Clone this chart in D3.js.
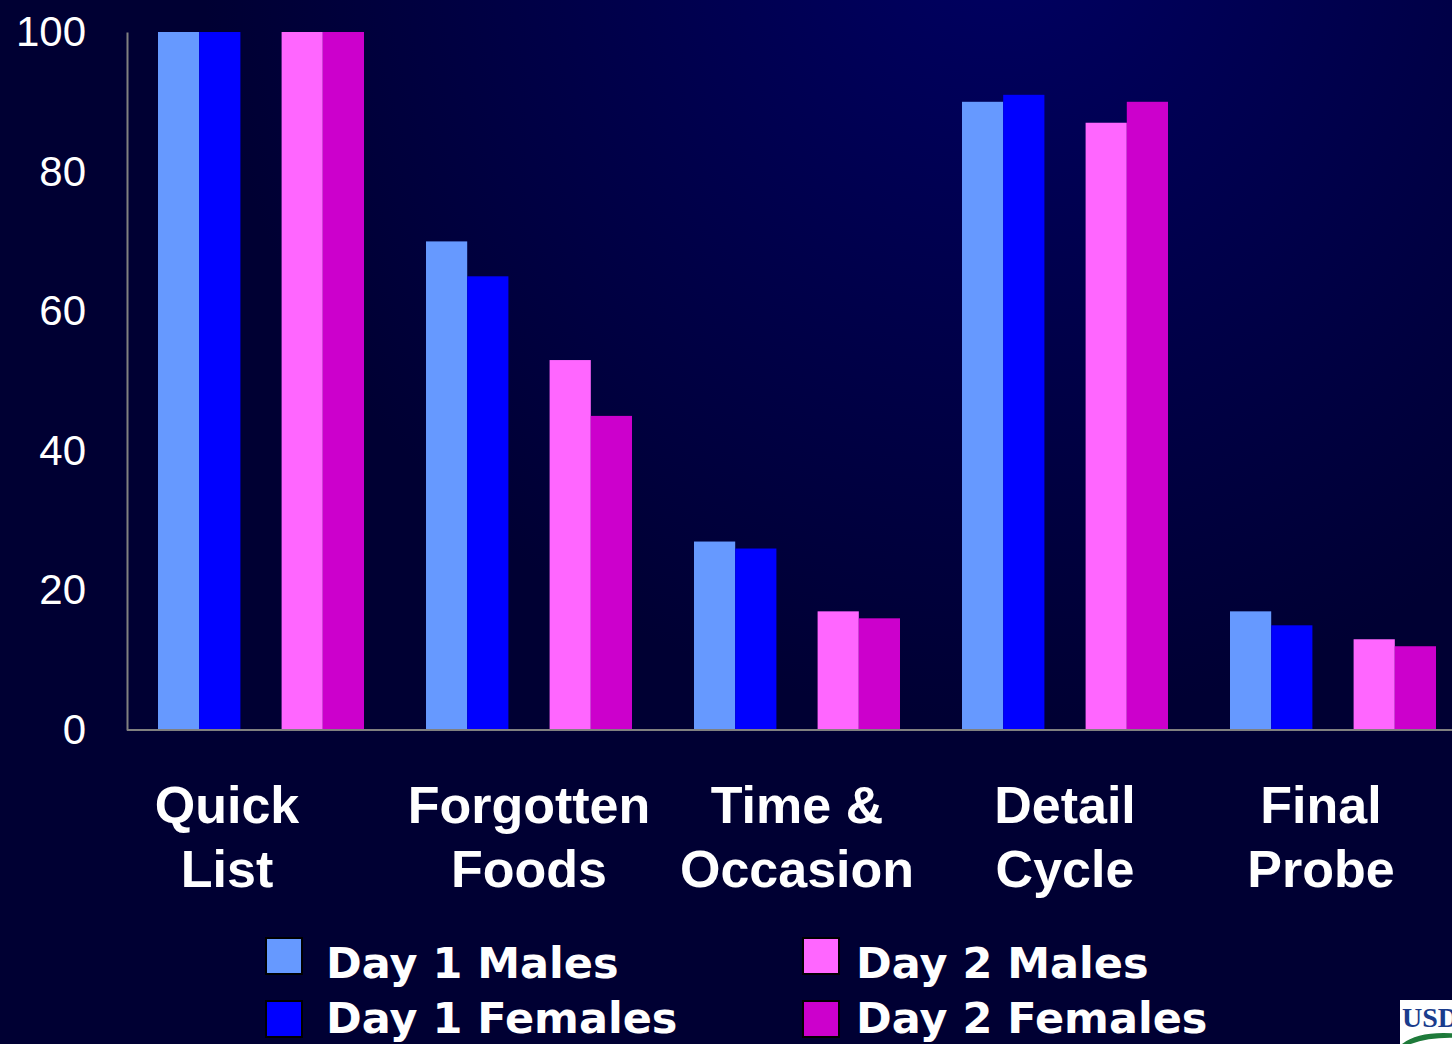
<!DOCTYPE html>
<html>
<head>
<meta charset="utf-8">
<script src="https://d3js.org/d3.v7.min.js"></script>
<style>
	html, body { margin: 0; padding: 0; background: #000033; }
	svg { display: block; }
</style>
</head>
<body>
<div id="chart"></div>
<script>
// recall rates by pass, per day and sex
let categories = [["Quick", "List"], ["Forgotten", "Foods"], ["Time &", "Occasion"], ["Detail", "Cycle"], ["Final", "Probe"]];
let seriesNames = ["Day 1 Males", "Day 1 Females", "Day 2 Males", "Day 2 Females"];
let day1Males = [100, 70, 27, 90, 17];
let day1Females = [100, 65, 26, 91, 15];
let day2Males = [100, 53, 17, 87, 13];
let day2Females = [100, 45, 16, 90, 12];
let yTicks = [0, 20, 40, 60, 80, 100];

let seriesValues = [day1Males, day1Females, day2Males, day2Females];
let colors = ["#6699ff", "#0000ff", "#ff66ff", "#cc00cc"];

var width = 1452, height = 1044;
var svg = d3.select("#chart").append("svg")
	.attr("width", width)
	.attr("height", height);

// background glow
var defs = svg.append("defs");
var grad = defs.append("radialGradient")
	.attr("id", "bg")
	.attr("gradientUnits", "userSpaceOnUse")
	.attr("cx", 1000).attr("cy", -80).attr("r", 800);
grad.append("stop").attr("offset", 0).attr("stop-color", "#000062");
grad.append("stop").attr("offset", 1).attr("stop-color", "#000033");
svg.append("rect")
	.attr("width", width).attr("height", height)
	.attr("fill", "url(#bg)");

var x0 = d3.scaleBand()
	.domain(d3.range(categories.length))
	.range([127, 1467])
	.paddingInner(62 / 268)
	.paddingOuter(31 / 268);

// slot "gap" stays empty between the day 1 and day 2 pairs
var x1 = d3.scaleBand()
	.domain([0, 1, "gap", 2, 3])
	.range([0, x0.bandwidth()]);

var y = d3.scaleLinear()
	.domain([0, 100])
	.range([730, 32]);

var rows = [];
categories.forEach(function(c, i) {
	seriesValues.forEach(function(vals, s) {
		rows.push({cat: i, series: s, value: vals[i]});
	});
});

svg.append("g").selectAll("rect")
	.data(rows)
	.enter()
	.append("rect")
	.attr("x", function(d) { return x0(d.cat) + x1(d.series); })
	.attr("y", function(d) { return y(d.value); })
	.attr("width", x1.bandwidth())
	.attr("height", function(d) { return y(0) - y(d.value); })
	.attr("fill", function(d) { return colors[d.series]; });

// y axis
var yAxis = svg.append("g")
	.attr("transform", "translate(127,0)")
	.call(d3.axisLeft(y).tickValues(yTicks).tickSize(0).tickSizeOuter(0).tickPadding(41));
yAxis.select(".domain").attr("stroke", "#808080").attr("stroke-width", 2);
yAxis.selectAll("text")
	.attr("fill", "#ffffff")
	.style("font-family", "'Liberation Sans', Arial, sans-serif")
	.style("font-size", "42px");

// baseline
svg.append("line")
	.attr("x1", 127).attr("x2", width)
	.attr("y1", y(0)).attr("y2", y(0))
	.attr("stroke", "#808080")
	.attr("stroke-width", 2);

// category labels
var catLabels = svg.append("g").selectAll("text")
	.data(categories)
	.enter()
	.append("text")
	.attr("text-anchor", "middle")
	.attr("fill", "#ffffff")
	.style("font-family", "'Liberation Sans', Arial, sans-serif")
	.style("font-weight", "bold")
	.style("font-size", "52px");
catLabels.each(function(d, i) {
	var cx = x0(i) + x0.bandwidth() / 2;
	if (i === 0) cx -= 34;
	if (i === 4) cx -= 12;
	var t = d3.select(this);
	t.append("tspan").attr("x", cx).attr("y", 823).text(d[0]);
	t.append("tspan").attr("x", cx).attr("y", 887).text(d[1]);
});

// legend
var legend = svg.append("g").selectAll("g")
	.data(seriesNames)
	.enter()
	.append("g")
	.attr("transform", function(d, i) {
		var col = i >= 2 ? 1 : 0;
		return "translate(" + (266 + col * 537) + ",0)";
	});
legend.append("rect")
	.attr("y", function(d, i) { return 938 + (i % 2) * 63; })
	.attr("width", 36).attr("height", 36)
	.attr("fill", function(d, i) { return colors[i]; })
	.attr("stroke", "#000000")
	.attr("stroke-width", 2);
legend.append("text")
	.attr("x", function(d, i) { return i >= 2 ? 53 : 60; })
	.attr("y", function(d, i) { return 978 + (i % 2) * 55; })
	.attr("fill", "#ffffff")
	.style("font-family", "'DejaVu Sans', Verdana, sans-serif")
	.style("font-weight", "bold")
	.style("font-size", "43px")
	.text(function(d) { return d; });

// small logo in corner
var logo = svg.append("g").attr("transform", "translate(1400,1000)");
logo.append("rect").attr("width", 60).attr("height", 50).attr("fill", "#ffffff");
logo.append("text")
	.attr("x", 2).attr("y", 27)
	.attr("fill", "#1a3c8c")
	.style("font-family", "'Liberation Serif', serif")
	.style("font-weight", "bold")
	.style("font-size", "28px")
	.text("USDA");
logo.append("path")
	.attr("d", "M2,44 Q20,30 60,34 L60,38 Q24,36 2,48 Z")
	.attr("fill", "#1e7a3a");
</script>
</body>
</html>
